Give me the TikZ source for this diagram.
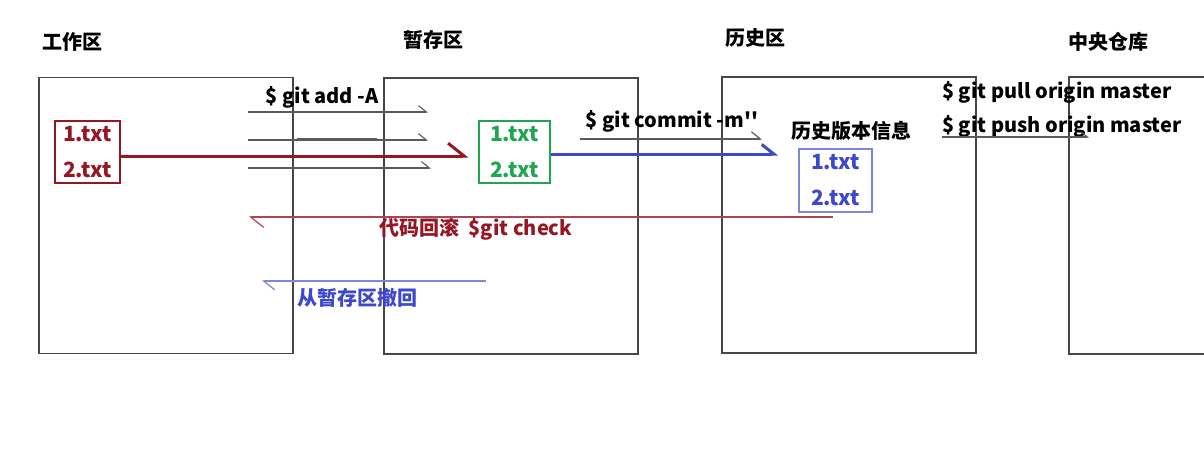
\documentclass[tikz,border=0pt]{standalone}
\usepackage{fontspec}
\newfontfamily\ui{Noto Sans CJK SC}
\usetikzlibrary{arrows.meta}

\definecolor{boxline}{RGB}{70,70,70}
\definecolor{wred}{RGB}{150,22,36}
\definecolor{sgreen}{RGB}{32,165,80}
\definecolor{hblue}{RGB}{62,72,205}
\definecolor{lblue}{RGB}{125,135,215}
\definecolor{guide}{RGB}{90,90,90}

\tikzset{
    zone/.style={draw=boxline, line width=1.3pt, minimum width=254pt, minimum height=276pt, inner sep=0pt},
    title/.style={font=\ui\bfseries\fontsize{20}{22}\selectfont, inner sep=0pt},
    cmd/.style={font=\ui\bfseries\fontsize{20}{22}\selectfont, inner sep=0pt},
    files/.style={draw, line width=1.3pt, inner sep=0pt, align=center,
        font=\ui\bfseries\fontsize{21}{36}\selectfont},
    harpoon/.style={-{Straight Barb[left, length=#1, width=1.6*#1]}},
}

\begin{document}
\begin{tikzpicture}[x=1pt, y=-1pt]
    \path[use as bounding box, clip] (0,0) rectangle (1204,448);

    % areas
    \node[zone] (work) at (166,215.5) {};
    \node[zone] (stage) at (511,216) {};
    \node[zone] (hist) at (849,215) {};
    \draw[boxline, line width=1.3pt] (1230,77) -- (1069,77) -- (1069,354) -- (1230,354);
    \coordinate (remote) at (1069,77);

    \node[title] (worktitle) at (72,42) {工作区};
    \node[title] (stagetitle) at (433,40) {暂存区};
    \node[title] (histtitle) at (755,38) {历史区};
    \node[title] (remotetitle) at (1108,42) {中央仓库};

    % files
    \node[files, draw=wred, text=wred, minimum width=65pt, minimum height=62pt] (workfiles) at (87.5,152) {1.txt\\2.txt};
    \node[files, draw=sgreen, text=sgreen, minimum width=71pt, minimum height=62pt] (stagefiles) at (514.5,152) {1.txt\\2.txt};
    \node[files, draw=lblue, text=hblue, minimum width=73pt, minimum height=63pt] (histfiles) at (835.5,180.5) {1.txt\\2.txt};
    \node[title] (histlabel) at (851,131) {历史版本信息};

    % git add
    \node[cmd] (addcmd) at (322,97) {\$ git add -A};
    \foreach \y/\e in {112/428, 140/428, 168/431} {
        \draw[guide, line width=1.1pt, harpoon=8pt] (248,\y) -- (\e,\y);
    }
    \draw[guide, line width=1.1pt] (297,139) -- (377,139);
    \draw[wred, line width=3pt, harpoon=16pt, shorten >=10pt] ([yshift=-4pt]workfiles.east) -- ([yshift=-4pt]stagefiles.west);

    % git commit
    \node[cmd] (commitcmd) at (672,121) {\$ git commit -m''};
    \coordinate (commitend) at (778,154);
    \draw[guide, line width=1.1pt, harpoon=9pt] (580,139) -- (762,139);
    \draw[hblue, line width=3pt, harpoon=12pt] ([yshift=-2pt]stagefiles.east) -- (commitend);

    % remote
    \node[cmd, anchor=west] (pullcmd) at (942,92) {\$ git pull origin master};
    \node[cmd, anchor=west] (pushcmd) at (942,126) {\$ git push origin master};
    \coordinate (pushstart) at (942,137);
    \coordinate (pushend) at (1089,137);
    \draw[guide, line width=1.1pt, harpoon=6pt] (pushstart) -- (pushend);

    % back
    \coordinate (resetstart) at (833,217);
    \coordinate (resetend) at (249,217);
    \draw[wred!80, line width=1.2pt, harpoon=13pt] (resetstart) -- (resetend);
    \node[cmd, text=wred] (resetcmd) at (476,229) {代码回滚\ \ \$git check};

    \coordinate (undostart) at (486,281);
    \coordinate (undoend) at (262,281);
    \draw[lblue, line width=1.2pt, harpoon=11pt] (undostart) -- (undoend);
    \node[cmd, text=hblue] (undocmd) at (357,298) {从暂存区撤回};
\end{tikzpicture}
\end{document}
